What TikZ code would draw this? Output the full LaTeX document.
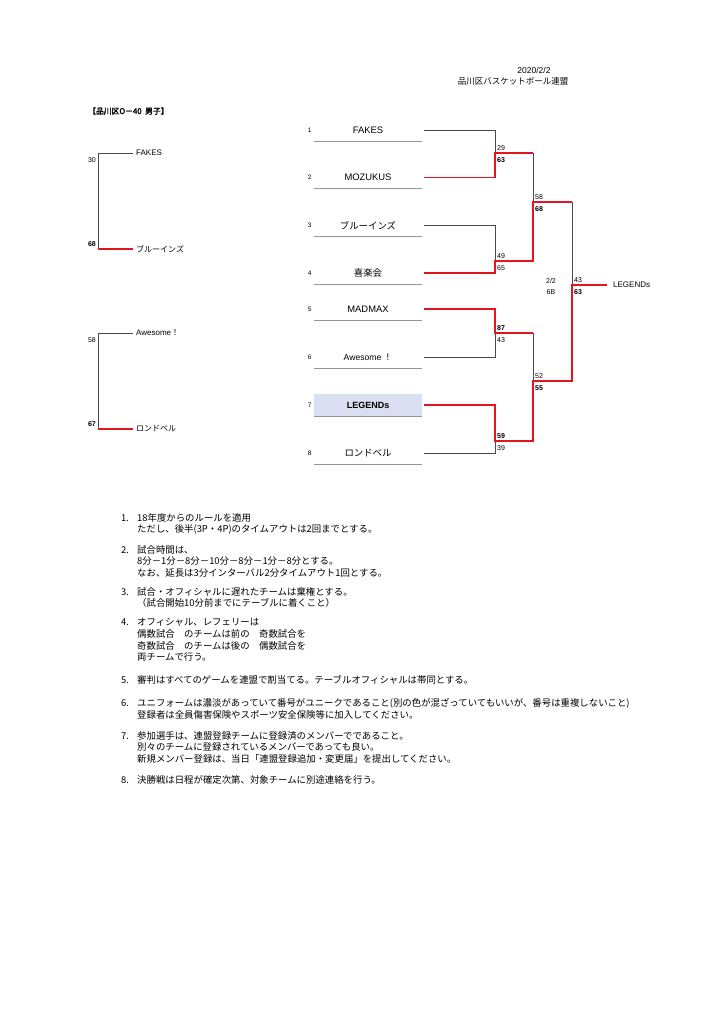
\documentclass[tikz,border=0pt]{standalone}
\usepackage{fontspec}
\setmainfont{Liberation Sans}
\newfontfamily\jp{Noto Sans CJK JP}[AutoFakeBold=2.5]
\usetikzlibrary{positioning,calc}
\definecolor{brRed}{RGB}{230,20,30}
\definecolor{brGray}{RGB}{75,75,75}
\definecolor{brLine}{RGB}{150,150,150}
\definecolor{brFill}{RGB}{217,222,240}

\tikzset{
  head/.style={font=\fontsize{8.5}{9}\selectfont, inner sep=0pt},
  team/.style={font=\fontsize{9.4}{10}\selectfont, minimum width=108pt, minimum height=22pt, inner sep=0pt},
  seed/.style={font=\fontsize{6.5}{7}\selectfont, inner sep=0pt},
  score/.style={font=\fontsize{7}{8}\selectfont, inner sep=0pt},
  side/.style={font=\fontsize{8}{9}\selectfont, anchor=west, inner sep=0pt},
  note/.style={font=\jp\fontsize{9.4}{11.8}\selectfont, anchor=north west, align=left, inner sep=0pt},
  lose/.style={brGray, line width=0.9pt},
  won/.style={brRed, line width=1.5pt},
  uline/.style={brLine, line width=0.7pt}
}

\begin{document}
\begin{tikzpicture}[x=1pt, y=-1pt]
  \useasboundingbox (0,0) rectangle (724,1024);

  % Header
  \node[head] (date) at (534,70) {2020/2/2};
  \node[head, font=\jp\fontsize{8.5}{9}\selectfont] (org) at (513,81) {品川区バスケットボール連盟};
  \node[head, anchor=west, font=\jp\fontsize{7.8}{8}\selectfont\bfseries] (title) at (88,111) {【品川区O－40\ \ 男子】};

  % Left summary: first pair
  \begin{scope}
    \coordinate (la1) at (98,153);
    \coordinate (lc1) at (98,249);
    \node[side] (lt1) at (136,153) {FAKES};
    \node[side] (lb1) at (136,249) {\jp ブルーインズ};
    \draw[lose] ([xshift=-3pt]lt1.west) -- (la1) -- (lc1);
    \draw[won] (lc1) -- ([xshift=-3pt]lb1.west);
    \node[score, below left=4.5pt and 2pt of la1] (lsa1) {30};
    \node[score, above left=2.5pt and 2pt of lc1, font=\fontsize{7}{8}\selectfont\bfseries] (lsb1) {68};
  \end{scope}

  % Left summary: second pair
  \begin{scope}
    \coordinate (la2) at (98,333);
    \coordinate (lc2) at (98,429);
    \node[side] (lt2) at (136,333) {Awesome{\jp ！}};
    \node[side] (lb2) at (136,429) {\jp ロンドベル};
    \draw[lose] ([xshift=-3pt]lt2.west) -- (la2) -- (lc2);
    \draw[won] (lc2) -- ([xshift=-3pt]lb2.west);
    \node[score, below left=4.5pt and 2pt of la2] (lsa2) {58};
    \node[score, above left=2.5pt and 2pt of lc2, font=\fontsize{7}{8}\selectfont\bfseries] (lsb2) {67};
  \end{scope}

  % Teams
  \node[team] (t1) at (368,130) {FAKES};
  \node[team] (t2) at (368,177.5) {MOZUKUS};
  \node[team, font=\jp\fontsize{9.4}{10}\selectfont] (t3) at (368,225.5) {ブルーインズ};
  \node[team, font=\jp\fontsize{9.4}{10}\selectfont] (t4) at (368,273) {喜楽会};
  \node[team] (t5) at (368,309) {MADMAX};
  \node[team, font=\fontsize{8.6}{10}\selectfont] (t6) at (368,357) {Awesome\ {\jp ！}};
  \node[team, fill=brFill, font=\fontsize{9}{10}\selectfont\bfseries] (t7) at (368,405) {LEGENDs};
  \node[team, font=\jp\fontsize{9.4}{10}\selectfont] (t8) at (368,453) {ロンドベル};

  \node[seed, left=2pt of t1] {1};
  \node[seed, left=2pt of t2] {2};
  \node[seed, left=2pt of t3] {3};
  \node[seed, left=2pt of t4] {4};
  \node[seed, left=2pt of t5] {5};
  \node[seed, left=2pt of t6] {6};
  \node[seed, left=2pt of t7] {7};
  \node[seed, left=2pt of t8] {8};

  \draw[uline] (t1.south west) -- (t1.south east);
  \draw[uline] (t2.south west) -- (t2.south east);
  \draw[uline] (t3.south west) -- (t3.south east);
  \draw[uline] (t4.south west) -- (t4.south east);
  \draw[uline] (t5.south west) -- (t5.south east);
  \draw[uline] (t6.south west) -- (t6.south east);
  \draw[uline] (t7.south west) -- (t7.south east);
  \draw[uline] (t8.south west) -- (t8.south east);

  % Junctions
  \coordinate (j12) at (495,153);
  \coordinate (j34) at (495,261);
  \coordinate (j56) at (495,333);
  \coordinate (j78) at (495,441);
  \coordinate (m12) at (533,153);
  \coordinate (m34) at (533,261);
  \coordinate (m56) at (533,333);
  \coordinate (m78) at (533,441);
  \coordinate (s1) at (533,202);
  \coordinate (s2) at (533,381);
  \coordinate (q1) at (572,202);
  \coordinate (q2) at (572,381);
  \coordinate (fin) at (572,285);
  \node[side] (champ) at (613,285) {LEGENDs};

  % Losing paths
  \draw[lose] ([xshift=2pt]t1.east) -| (j12);
  \draw[lose] ([xshift=2pt]t3.east) -| (j34);
  \draw[lose] ([xshift=2pt]t6.east) -| (j56);
  \draw[lose] ([xshift=2pt]t8.east) -| (j78);
  \draw[lose] (m12) -- (s1);
  \draw[lose] (m56) -- (s2);
  \draw[lose] (q1) -- (fin);

  % Winning paths
  \draw[won] ([xshift=2pt]t2.east) -| (j12) -- (m12);
  \draw[won] ([xshift=2pt]t4.east) -| (j34) -- (m34) -- (s1) -- (q1);
  \draw[won] ([xshift=2pt]t5.east) -| (j56) -- (m56);
  \draw[won] ([xshift=2pt]t7.east) -| (j78) -- (m78) -- (s2) -- (q2) -- (fin) -- ([xshift=-6pt]champ.west);

  % Scores
  \node[score, above right=2.5pt and 2pt of j12] {29};
  \node[score, below right=4.5pt and 2pt of j12, font=\fontsize{7}{8}\selectfont\bfseries] {63};
  \node[score, above right=2.5pt and 2pt of j34] {49};
  \node[score, below right=4.5pt and 2pt of j34] {65};
  \node[score, above right=2.5pt and 2pt of j56, font=\fontsize{7}{8}\selectfont\bfseries] {87};
  \node[score, below right=4.5pt and 2pt of j56] {43};
  \node[score, above right=2.5pt and 2pt of j78, font=\fontsize{7}{8}\selectfont\bfseries] {59};
  \node[score, below right=4.5pt and 2pt of j78] {39};
  \node[score, above right=2.5pt and 2pt of s1] {58};
  \node[score, below right=4.5pt and 2pt of s1, font=\fontsize{7}{8}\selectfont\bfseries] {68};
  \node[score, above right=2.5pt and 2pt of s2] {52};
  \node[score, below right=4.5pt and 2pt of s2, font=\fontsize{7}{8}\selectfont\bfseries] {55};
  \node[score, above right=2.5pt and 2pt of fin] {43};
  \node[score, below right=4.5pt and 2pt of fin, font=\fontsize{7}{8}\selectfont\bfseries] {63};
  \node[score] (day) at (551,281) {2/2};
  \node[score] (court) at (551,292) {6B};

  % Notes
  \node[note] (n1) at (121,513) {\makebox[16pt][l]{1.}18年度からのルールを適用\\
    \hspace*{16pt}ただし、後半(3P・4P)のタイムアウトは2回までとする。};
  \node[note] (n2) at (121,545) {\makebox[16pt][l]{2.}試合時間は、\\
    \hspace*{16pt}8分－1分－8分－10分－8分－1分－8分とする。\\
    \hspace*{16pt}なお、延長は3分インターバル2分タイムアウト1回とする。};
  \node[note] (n3) at (121,587) {\makebox[16pt][l]{3.}試合・オフィシャルに遅れたチームは棄権とする。\\
    \hspace*{16pt}（試合開始10分前までにテーブルに着くこと）};
  \node[note] (n4) at (121,618) {\makebox[16pt][l]{4.}オフィシャル、レフェリーは\\
    \hspace*{16pt}偶数試合　のチームは前の　奇数試合を\\
    \hspace*{16pt}奇数試合　のチームは後の　偶数試合を\\
    \hspace*{16pt}両チームで行う。};
  \node[note] (n5) at (121,675) {\makebox[16pt][l]{5.}審判はすべてのゲームを連盟で割当てる。テーブルオフィシャルは帯同とする。};
  \node[note] (n6) at (121,698) {\makebox[16pt][l]{6.}ユニフォームは濃淡があっていて番号がユニークであること(別の色が混ざっていてもいいが、番号は重複しないこと)\\
    \hspace*{16pt}登録者は全員傷害保険やスポーツ安全保険等に加入してください。};
  \node[note] (n7) at (121,731) {\makebox[16pt][l]{7.}参加選手は、連盟登録チームに登録済のメンバーでであること。\\
    \hspace*{16pt}別々のチームに登録されているメンバーであっても良い。\\
    \hspace*{16pt}新規メンバー登録は、当日「連盟登録追加・変更届」を提出してください。};
  \node[note] (n8) at (121,775) {\makebox[16pt][l]{8.}決勝戦は日程が確定次第、対象チームに別途連絡を行う。};
\end{tikzpicture}
\end{document}
